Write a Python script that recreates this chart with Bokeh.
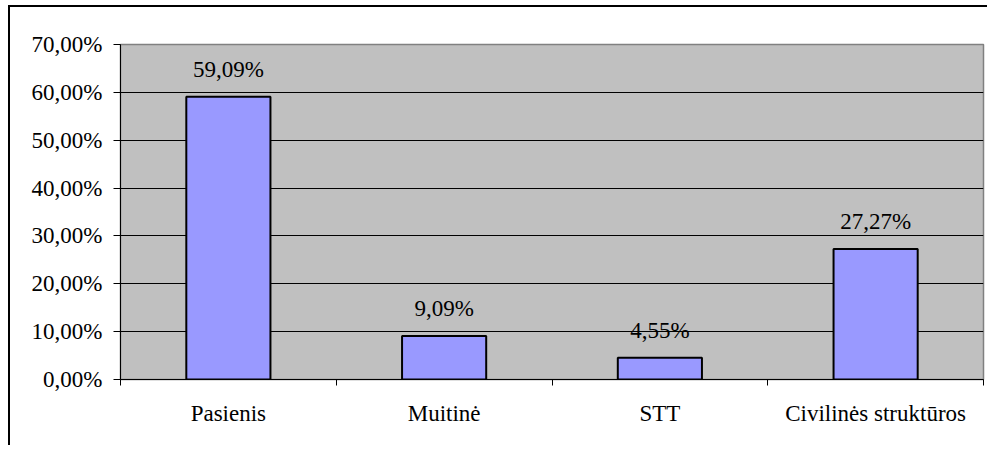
from bokeh.plotting import figure
from bokeh.models import ColumnDataSource, FixedTicker, LabelSet, Range1d
from bokeh.embed import file_html
from bokeh.resources import INLINE

categories = ["Pasienis", "Muitinė", "STT", "Civilinės struktūros"]
values = [59.09, 9.09, 4.55, 27.27]
bar_labels = ["59,09%", "9,09%", "4,55%", "27,27%"]
y_ticks = [0, 10, 20, 30, 40, 50, 60, 70]
y_tick_labels = ["0,00%", "10,00%", "20,00%", "30,00%", "40,00%", "50,00%", "60,00%", "70,00%"]

FONT = "Liberation Serif"
FS = "23px"

xs = [i + 0.5 for i in range(len(categories))]
src = ColumnDataSource(dict(x=xs, top=values, label=bar_labels, cat=categories))

p = figure(width=979, height=440, output_backend="svg", toolbar_location=None,
           x_range=Range1d(0, len(categories)), y_range=Range1d(0, 70),
           min_border_left=110, min_border_top=37, min_border_right=6, min_border_bottom=68)
p.styles = {"border-left": "2px solid black", "border-top": "2px solid black",
            "margin-left": "8px", "margin-top": "5px"}

p.background_fill_color = "#C0C0C0"
p.border_fill_color = "white"
p.outline_line_color = "#808080"
p.outline_line_width = 1.5

p.vbar(x="x", top="top", bottom=0, width=0.39, source=src,
       fill_color="#9999FF", line_color="black", line_width=2)

labels = LabelSet(x="x", y="top", text="label", source=src, text_align="center",
                  text_baseline="alphabetic", y_offset=20, text_font=FONT,
                  text_font_size=FS, text_color="black")
p.add_layout(labels)

# y axis
p.yaxis.ticker = FixedTicker(ticks=y_ticks, minor_ticks=[])
p.yaxis.major_label_overrides = {t: l for t, l in zip(y_ticks, y_tick_labels)}
p.yaxis.major_tick_out = 7
p.yaxis.major_tick_in = 0
p.yaxis.minor_tick_out = 0
p.yaxis.axis_line_color = "black"
p.yaxis.major_tick_line_color = "black"
p.yaxis.major_label_text_font = FONT
p.yaxis.major_label_text_font_size = FS
p.yaxis.major_label_text_color = "black"
p.yaxis.major_label_standoff = 11

# x axis
p.xaxis.ticker = FixedTicker(ticks=xs, minor_ticks=list(range(len(categories) + 1)))
p.xaxis.major_label_overrides = {x: c for x, c in zip(xs, categories)}
p.xaxis.major_tick_out = 0
p.xaxis.major_tick_in = 0
p.xaxis.minor_tick_out = 6
p.xaxis.minor_tick_in = 0
p.xaxis.minor_tick_line_color = "black"
p.xaxis.axis_line_color = "black"
p.xaxis.major_label_text_font = FONT
p.xaxis.major_label_text_font_size = FS
p.xaxis.major_label_text_color = "black"
p.xaxis.major_label_standoff = 15

p.xgrid.grid_line_color = None
p.ygrid.ticker = FixedTicker(ticks=y_ticks)
p.ygrid.grid_line_color = "black"
p.ygrid.grid_line_width = 1

open("out.html", "w").write(file_html(p, INLINE))
